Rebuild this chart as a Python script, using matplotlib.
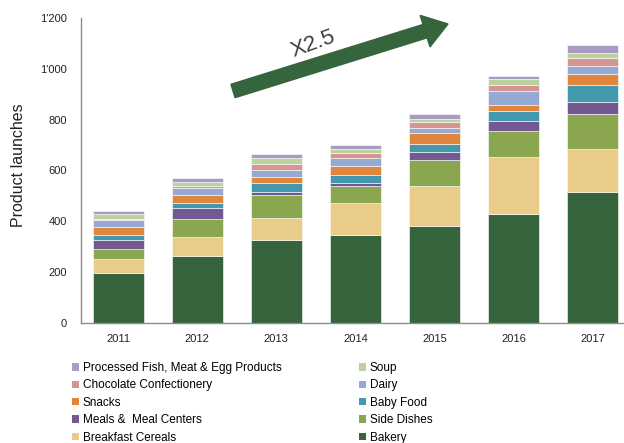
import matplotlib
matplotlib.use("Agg")
import matplotlib.pyplot as plt
import matplotlib.ticker as mticker
from matplotlib.patches import Patch, FancyArrow
import numpy as np

plt.rcParams['font.family'] = ['Liberation Sans', 'DejaVu Sans']

years = ['2011', '2012', '2013', '2014', '2015', '2016', '2017']
categories = ['Bakery', 'Breakfast Cereals', 'Side Dishes', 'Meals &  Meal Centers',
              'Baby Food', 'Snacks', 'Dairy', 'Chocolate Confectionery', 'Soup',
              'Processed Fish, Meat & Egg Products']
bakery      = [198, 262, 327, 345, 380, 428, 517]
cereals     = [53, 76, 87, 127, 158, 224, 166]
side_dishes = [42, 70, 90, 67, 102, 102, 138]
meals       = [34, 46, 11, 13, 33, 41, 50]
baby_food   = [21, 17, 35, 29, 33, 41, 67]
snacks      = [31, 34, 26, 35, 43, 23, 42]
dairy       = [25, 25, 24, 32, 20, 53, 33]
chocolate   = [6, 9, 25, 22, 22, 24, 28]
soup        = [20, 16, 25, 14, 10, 25, 23]
fish        = [9, 14, 16, 15, 23, 12, 28]
series = [bakery, cereals, side_dishes, meals, baby_food, snacks, dairy, chocolate, soup, fish]
colors = ['#36643d', '#e9cc8a', '#8aa64f', '#735891', '#4398ae',
          '#df853c', '#94a9d3', '#d49593', '#bbd29c', '#a99bc4']

W, H = 624, 443
fig = plt.figure(figsize=(W / 100, H / 100), dpi=100)
ax = fig.add_axes([81 / W, (H - 323) / H, (W - 81) / W, 305 / H])

x = np.arange(len(years))
bottom = np.zeros(len(years))
handles = {}
for name, vals, c in zip(categories, series, colors):
    ax.bar(x, vals, width=0.645, bottom=bottom, color=c, edgecolor='white', linewidth=0.4)
    bottom += np.array(vals)
    handles[name] = Patch(facecolor=c, edgecolor='none')

ax.set_ylim(0, 1200)
ax.set_xlim(-0.47, 6.395)
ax.set_xticks(x)
ax.set_xticklabels(years)
ax.set_yticks(range(0, 1201, 200))
ax.yaxis.set_major_formatter(mticker.FuncFormatter(lambda v, p: f"{int(v):,}".replace(',', "'")))
ax.tick_params(axis='both', length=0, labelsize=8, colors='#222222')
ax.tick_params(axis='y', pad=10)
ax.tick_params(axis='x', pad=8)
for s in ['top', 'right']:
    ax.spines[s].set_visible(False)
for s in ['left', 'bottom']:
    ax.spines[s].set_color('#8c8c8c')
    ax.spines[s].set_linewidth(1.0)

fig.text(19 / W, (H - 165) / H, 'Product launches', rotation=90, ha='center', va='center',
         fontsize=11.5, color='#222222')

# arrow
arrow = FancyArrow(2.33, (H - 91) / 100, 2.15, 0.67, width=0.14, head_width=0.33,
                   head_length=0.24, length_includes_head=True, color='#36643d',
                   transform=fig.dpi_scale_trans)
fig.patches.append(arrow)
fig.text(313 / W, (H - 44) / H, 'X2.5', rotation=20, ha='center', va='center',
         fontsize=16, color='#404040')

col1 = ['Processed Fish, Meat & Egg Products', 'Chocolate Confectionery', 'Snacks',
        'Meals &  Meal Centers', 'Breakfast Cereals']
col2 = ['Soup', 'Dairy', 'Baby Food', 'Side Dishes', 'Bakery']
for names, xp in [(col1, 72), (col2, 359)]:
    fig.legend([handles[n] for n in names], names, loc='upper left',
               bbox_to_anchor=(xp / W, (H - 362) / H), frameon=False, fontsize=8.5,
               handlelength=0.6, handleheight=0.6, handletextpad=0.3, labelspacing=0.46,
               borderpad=0, borderaxespad=0)

fig.savefig('out.png', dpi=100)
